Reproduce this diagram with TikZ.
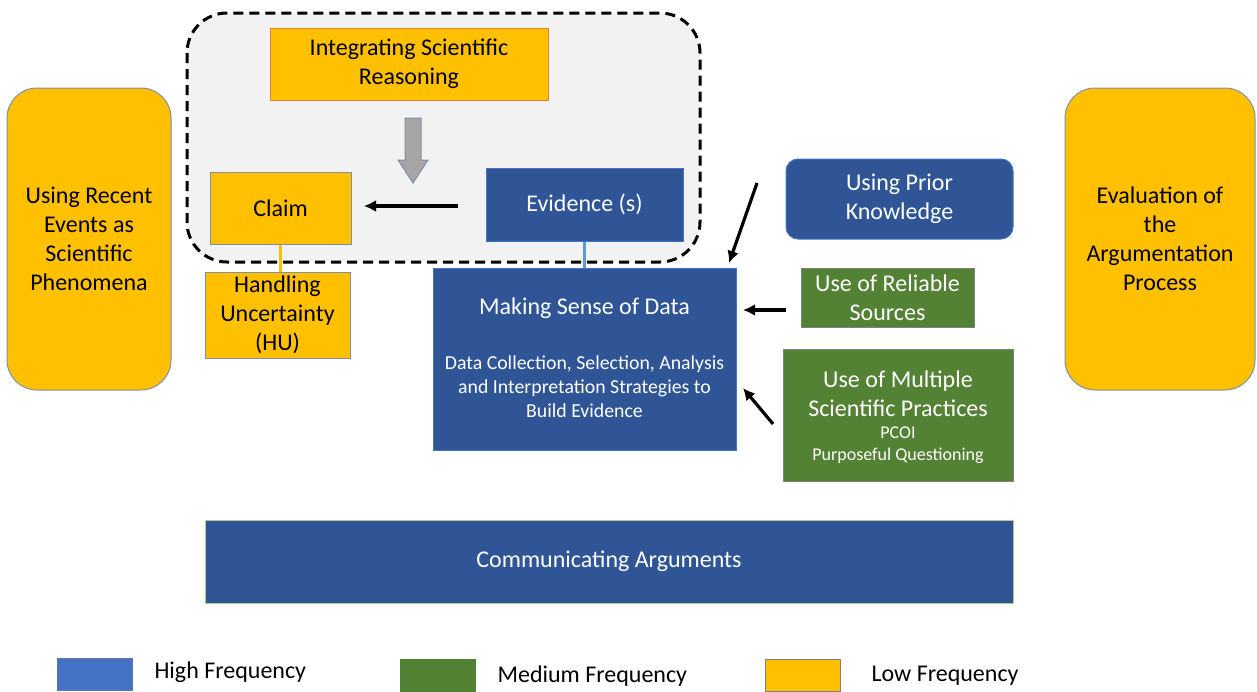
\documentclass[tikz,border=0pt]{standalone}
\usepackage{fontspec}
\setmainfont{Carlito}
\usetikzlibrary{arrows.meta}
\definecolor{gold}{HTML}{FFC000}
\definecolor{navy}{HTML}{2F5597}
\definecolor{lightblue}{HTML}{4472C4}
\definecolor{skyline}{HTML}{5B9BD5}
\definecolor{leaf}{HTML}{548235}
\definecolor{panel}{HTML}{F2F2F2}
\definecolor{slate}{HTML}{7F8FA9}
\begin{document}
\begin{tikzpicture}[x=1pt,y=-1pt,
  base/.style={draw, line width=1pt, inner sep=2pt, align=center},
  lowbox/.style={base, fill=gold, draw=slate, text=black},
  highbox/.style={base, fill=navy, draw=lightblue, text=white},
  midbox/.style={base, fill=leaf, draw=gray, text=white},
  bigtext/.style={font=\fontsize{24}{29}\selectfont},
  smalltext/.style={font=\fontsize{19.8}{24}\selectfont},
  tinytext/.style={font=\fontsize{18}{22.5}\selectfont},
  flow/.style={line width=3.2pt, -{Latex[length=12pt,width=12pt]}},
  link/.style={line width=2.2pt},
  swatch/.style={draw=slate, line width=0.8pt, minimum width=75, minimum height=32, inner sep=0pt},
  legendtext/.style={font=\fontsize{24}{28}\selectfont, anchor=west}
]
\useasboundingbox (0,0) rectangle (1257,691);

% grouped reasoning panel
\draw[fill=panel, dashed, dash pattern=on 10pt off 6pt, line width=3pt, rounded corners=40]
  (187,13) rectangle (700,262);

% side boxes
\node[lowbox, bigtext, rounded corners=30, minimum width=164, minimum height=302] (recent) at (89,239)
  {Using Recent\\Events as\\Scientific\\Phenomena};
\node[lowbox, bigtext, rounded corners=30, minimum width=190, minimum height=302] (evalproc) at (1160,239)
  {Evaluation of\\the\\Argumentation\\Process};

% panel contents
\node[lowbox, bigtext, draw={rgb,255:red,237;green,125;blue,49}, minimum width=278, minimum height=72] (isr) at (409,64)
  {Integrating Scientific\\Reasoning};
\node[lowbox, bigtext, minimum width=141, minimum height=72] (claim) at (280.5,208) {Claim};
\node[highbox, bigtext, minimum width=197, minimum height=73] (evid) at (584.5,204.5) {Evidence (s)};

% grey block arrow from reasoning down to the claim row
\draw[fill={rgb,255:red,166;green,166;blue,166}, draw=slate, line width=1pt]
  (405,118) -- (421,118) -- (421,160) -- (428,160) -- (413,183) -- (398,160) -- (405,160) -- cycle;

% lower boxes
\node[lowbox, bigtext, minimum width=145, minimum height=86] (hu) at (277.5,315)
  {Handling\\Uncertainty\\(HU)};
\node[highbox, minimum width=303, minimum height=182] (msd) at (584.5,359) {};
\node[bigtext, text=white] (msdtitle) at (584.5,308) {Making Sense of Data};
\node[smalltext, text=white, align=center] (msdbody) at (584.5,387)
  {Data Collection, Selection, Analysis\\and Interpretation Strategies to\\Build Evidence};

\node[highbox, bigtext, rounded corners=12, minimum width=227, minimum height=80] (prior) at (899.5,199)
  {Using Prior\\Knowledge};
\node[midbox, bigtext, minimum width=173, minimum height=59] (reliable) at (887.5,297.5)
  {Use of Reliable\\Sources};
\node[midbox, minimum width=230, minimum height=132] (multi) at (898,415) {};
\node[bigtext, text=white, align=center] (multititle) at (898,393.5)
  {Use of Multiple\\Scientific Practices};
\node[tinytext, text=white, align=center] (multibody) at (898,445)
  {PCOI\\Purposeful Questioning};

\node[highbox, bigtext, draw={rgb,255:red,169;green,209;blue,142}, minimum width=808, minimum height=83] (comm) at (609,561.5)
  {Communicating Arguments};

% connectors
\coordinate (evtail) at (458,206);
\coordinate (claimtip) at (364,206);
\draw[flow] (evtail) -- (claimtip);

\draw[link, draw=gold] (claim.south) -- (claim.south |- hu.north);
\draw[link, draw=skyline] (evid.south) -- (evid.south |- msd.north);

\coordinate (priortail) at (757,183);
\coordinate (priortip) at (729,263);
\draw[flow] (priortail) -- (priortip);

\coordinate (reltail) at (786,310);
\coordinate (reltip) at (743,310);
\draw[flow] (reltail) -- (reltip);

\coordinate (multail) at (773,424);
\coordinate (multip) at (743,388);
\draw[flow] (multail) -- (multip);

% legend
\node[swatch, fill=lightblue, draw=lightblue!60!gray] (keyhigh) at (95,674) {};
\node[legendtext] (keyhightext) at (151,672) {High Frequency};
\node[swatch, fill=leaf, draw=leaf] (keymid) at (437.5,675.5) {};
\node[legendtext] (keymidtext) at (494,676) {Medium Frequency};
\node[swatch, fill=gold, draw=gray] (keylow) at (802.5,675.5) {};
\node[legendtext] (keylowtext) at (868,676) {Low Frequency};
\end{tikzpicture}
\end{document}
